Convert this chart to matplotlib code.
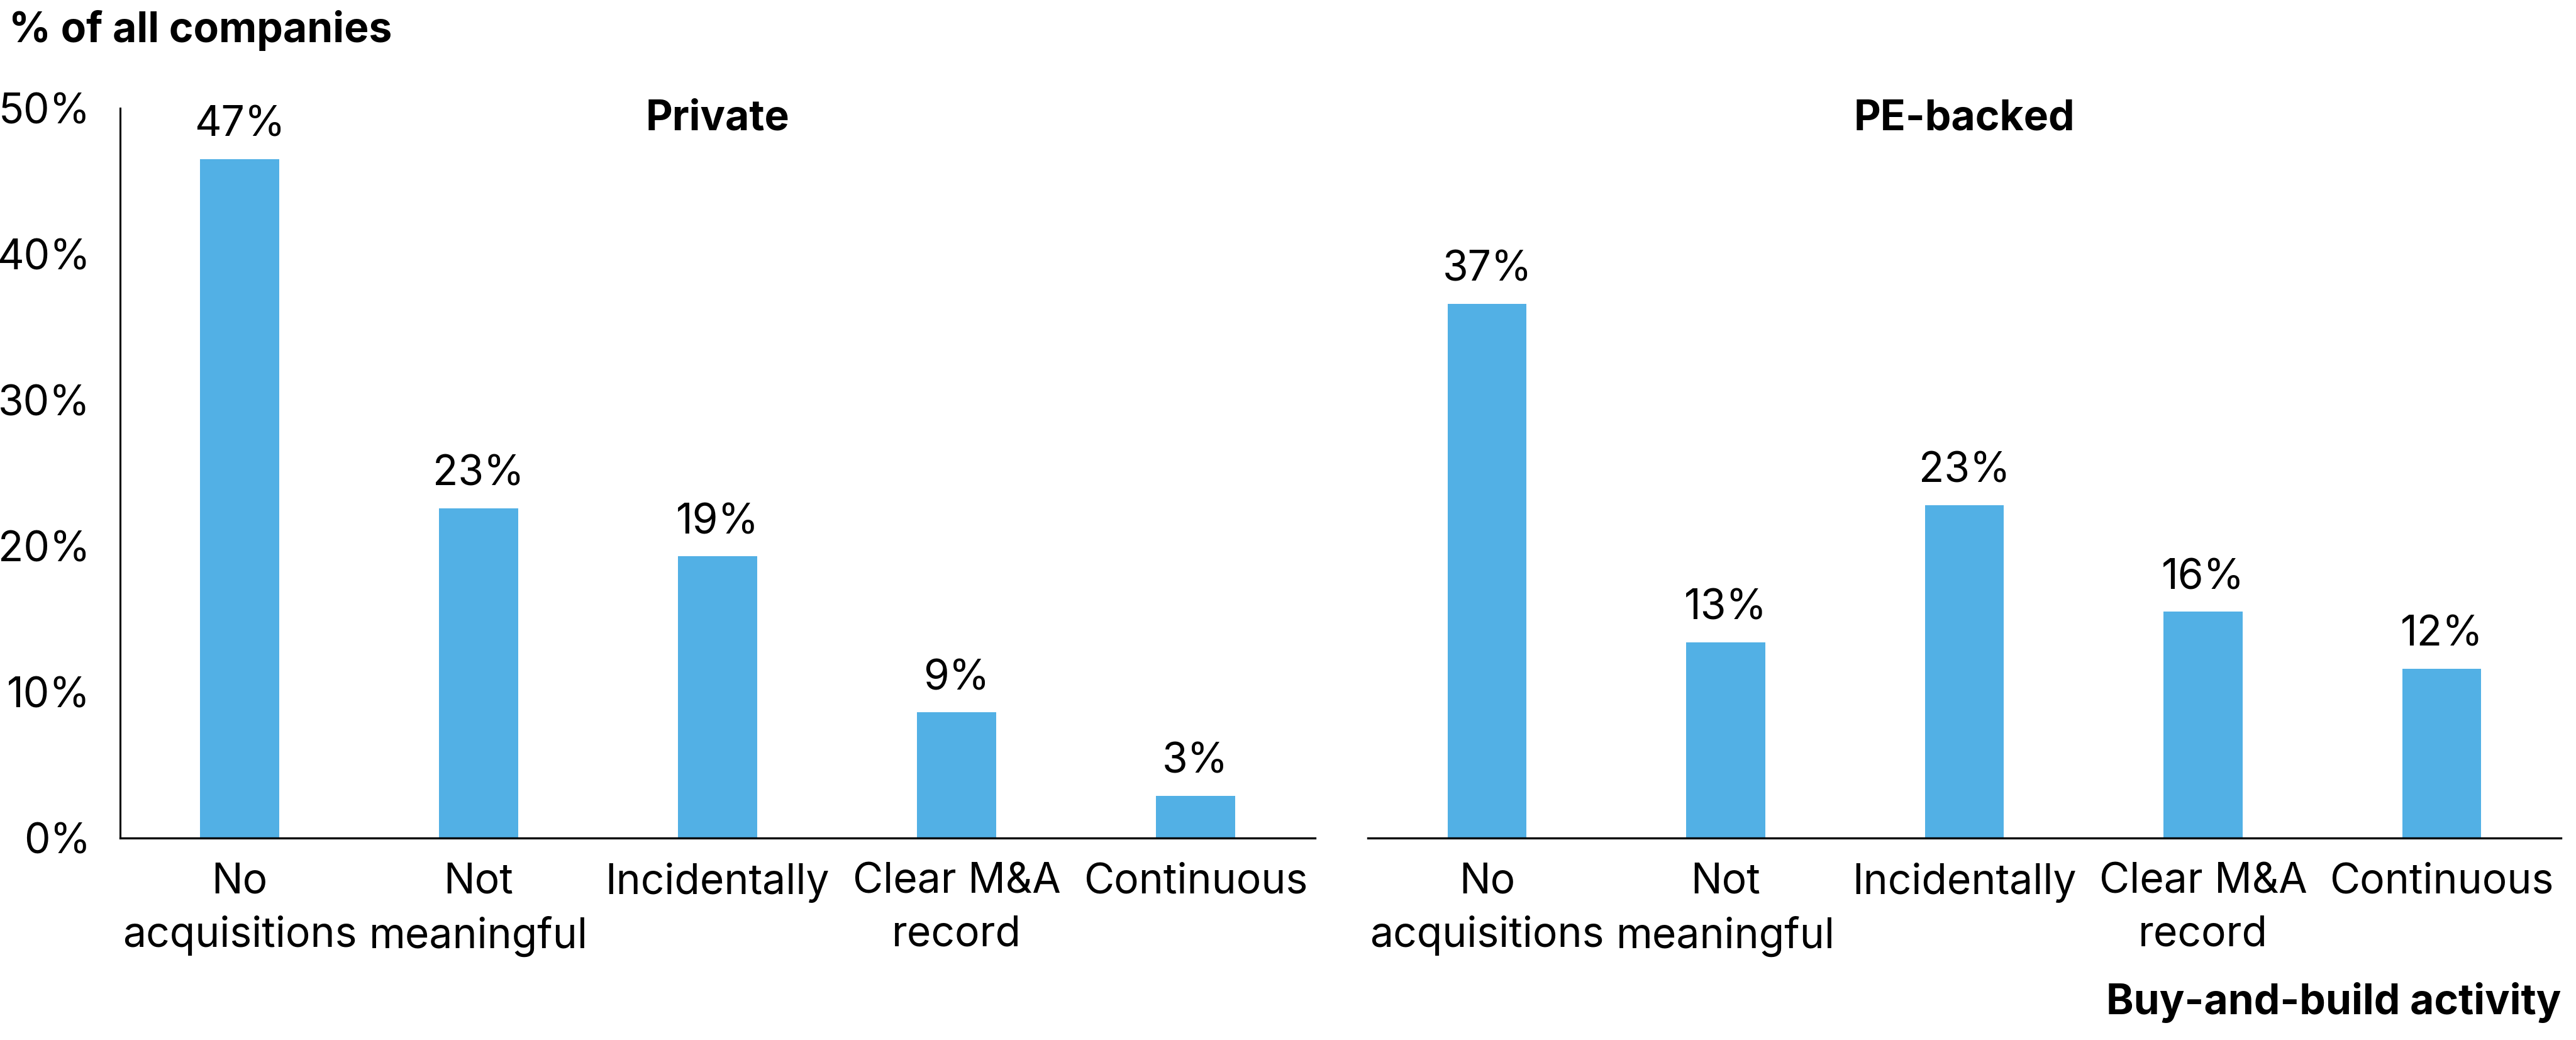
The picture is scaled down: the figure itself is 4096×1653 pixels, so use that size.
import matplotlib
matplotlib.use('Agg')
import matplotlib.pyplot as plt
import numpy as np

categories = ["No\nacquisitions", "Not\nmeaningful", "Incidentally", "Clear M&A\nrecord", "Continuous"]
private_vals = [46.5, 22.6, 19.3, 8.6, 2.9]
pe_vals = [36.6, 13.4, 22.8, 15.5, 11.6]
private_labels = ["47%", "23%", "19%", "9%", "3%"]
pe_labels = ["37%", "13%", "23%", "16%", "12%"]
panel_titles = ["Private", "PE-backed"]
y_ticks = [0, 10, 20, 30, 40, 50]

plt.rcParams['font.family'] = ['Inter', 'DejaVu Sans']
BLUE = '#52B0E5'
FS = 47.5

W, H = 4096, 1653
fig = plt.figure(figsize=(W / 100, H / 100), dpi=100)
bottom = (H - 1332) / H
height = 1160 / H
ax1 = fig.add_axes([191 / W, bottom, 1900 / W, height])
ax2 = fig.add_axes([2175 / W, bottom, 1897 / W, height])

x = np.arange(len(categories))
for ax, vals, labels, title in [(ax1, private_vals, private_labels, panel_titles[0]),
                                (ax2, pe_vals, pe_labels, panel_titles[1])]:
    bars = ax.bar(x, vals, width=0.33, color=BLUE)
    ax.bar_label(bars, labels, padding=16, fontsize=FS)
    ax.set_xlim(-0.5, len(categories) - 0.5)
    ax.set_ylim(0, 50)
    ax.set_xticks(x, categories, fontsize=FS, linespacing=1.42)
    ax.tick_params(axis='x', length=0, pad=28)
    for s in ['top', 'right']:
        ax.spines[s].set_visible(False)
    ax.spines['bottom'].set_linewidth(2.4)
    ax.spines['left'].set_linewidth(2.2)
    ax.text(0.5, 0.985, title, transform=ax.transAxes, ha='center', va='center',
            fontsize=FS, fontweight='bold')

ax1.set_yticks(y_ticks, [f"{v}%" for v in y_ticks], fontsize=FS)
ax1.tick_params(axis='y', length=0, pad=34)
ax2.spines['left'].set_visible(False)
ax2.set_yticks([])

fig.text(14 / W, 1 - 67 / H, "% of all companies", fontsize=FS, fontweight='bold',
         ha='left', va='baseline')
fig.text(4072 / W, 1 - 1593 / H, "Buy-and-build activity", fontsize=FS, fontweight='bold',
         ha='right', va='center')

fig.savefig('out.png', dpi=100)
